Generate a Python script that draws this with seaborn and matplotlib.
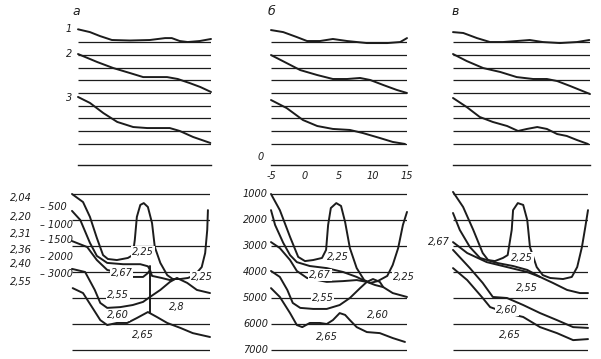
import numpy as np
import matplotlib
matplotlib.use('Agg')
import matplotlib.pyplot as plt
import seaborn as sns

sns.set_style('white')
plt.rcParams['font.family'] = ['DejaVu Sans']

# ---------- upper profiles: x in km, y in grid-line units (0 = top line) ----------
x_ticks = [-5, 0, 5, 10, 15]
grid_lines = [0, 1, 2, 3, 4, 5, 6, 7, 8]
profile_labels = ['1', '2', '3']
profile_label_y = [-1.0, 0.95, 4.4]

a_p1_x = [-5.0, -3.2, -1.7, 0.1, 2.8, 5.8, 8.1, 9.1, 10.3, 11.5, 13.3, 15.0]
a_p1_y = [-1.0, -0.78, -0.47, -0.16, -0.12, -0.16, -0.31, -0.31, -0.08, 0.0, -0.08, -0.24]
a_p2_x = [-5.0, -2.1, 0.3, 2.8, 4.8, 8.4, 10.0, 11.8, 13.4, 15.0]
a_p2_y = [0.94, 1.57, 2.04, 2.43, 2.75, 2.75, 2.9, 3.22, 3.53, 3.92]
a_p3_x = [-5.0, -3.2, -1.2, 0.9, 3.3, 5.4, 8.8, 10.3, 12.3, 14.9]
a_p3_y = [4.31, 4.78, 5.57, 6.27, 6.67, 6.75, 6.75, 6.98, 7.45, 7.92]

b_p1_x = [-5.0, -3.2, -1.2, 0.3, 2.2, 4.1, 6.2, 9.1, 12.1, 14.0, 15.0]
b_p1_y = [-0.94, -0.78, -0.39, -0.08, -0.08, -0.24, -0.08, 0.08, 0.08, 0.0, -0.31]
b_p2_x = [-5.0, -2.7, -0.7, 1.8, 4.1, 6.2, 8.1, 9.6, 11.5, 13.5, 15.0]
b_p2_y = [1.02, 1.65, 2.2, 2.59, 2.9, 2.9, 2.82, 2.98, 3.37, 3.76, 4.0]
b_p3_x = [-5.0, -2.7, -0.3, 1.8, 4.1, 6.6, 8.5, 11.0, 12.9, 14.7]
b_p3_y = [4.55, 5.18, 6.12, 6.59, 6.82, 6.9, 7.14, 7.53, 7.84, 8.0]

c_p1_x = [-5.0, -3.5, -1.5, 0.4, 2.3, 4.3, 6.2, 8.1, 10.6, 13.1, 14.9]
c_p1_y = [-0.78, -0.71, -0.31, 0.0, 0.0, -0.08, -0.16, 0.0, 0.08, 0.0, -0.16]
c_p2_x = [-5.0, -3.0, -0.6, 1.9, 4.3, 6.7, 8.7, 10.2, 12.1, 15.0]
c_p2_y = [0.94, 1.49, 2.04, 2.35, 2.75, 2.9, 2.9, 3.06, 3.45, 4.08]
c_p3_x = [-5.0, -3.0, -1.1, 0.8, 2.9, 4.5, 5.8, 7.3, 8.7, 10.2, 11.6, 13.1, 14.7]
c_p3_y = [4.39, 5.1, 5.88, 6.27, 6.59, 6.98, 6.82, 6.67, 6.82, 7.22, 7.37, 7.69, 8.0]

# ---------- lower sections: x in km, depth in m ----------
depth_levels = [1000, 2000, 3000, 4000, 5000, 6000, 7000]

a_basement_x = [-5.0, -3.4, -2.4, -1.4, -0.5, 0.2, 1.5, 3.1, 3.8, 4.1, 4.4, 4.9, 5.4, 6.0, 6.6,
                7.0, 7.8, 8.8, 9.6, 10.7, 11.8, 12.8, 13.8, 14.3, 14.6, 14.7]
a_basement_d = [1000, 1310, 1880, 2690, 3350, 3500, 3540, 3460, 3350, 2770, 1880, 1420, 1350, 1500, 2120,
                3040, 3650, 4120, 4270, 4270, 4230, 4120, 3810, 3270, 2380, 1620]
a_l500_x = [-5.0, -3.8, -2.4, -1.4, 0.1, 2.4, 4.9, 6.0, 6.3, 6.6, 8.0, 9.2, 10.3]
a_l500_d = [1650, 2000, 2880, 3380, 3650, 3700, 3700, 3780, 3920, 4150, 4230, 4310, 4250]
a_l1500_x = [-5.0, -2.8, -1.4, 0.1, 2.0, 3.8, 5.3, 6.0, 6.3]
a_l1500_d = [2810, 3040, 3540, 3920, 4040, 4190, 4190, 4040, 3920]
a_l3000_x = [-5.0, -3.1, -1.7, -0.9, 0.1, 2.0, 3.8, 5.3, 6.3, 7.8, 9.2, 10.2, 11.7, 13.1, 15.0]
a_l3000_d = [3880, 4000, 4690, 5190, 5380, 5350, 5270, 5150, 4960, 4690, 4380, 4230, 4420, 4690, 4810]
a_low_x = [-4.9, -3.4, -2.1, -0.9, 0.1, 1.5, 3.0, 4.4, 6.0, 7.3, 8.8, 10.7, 12.5, 15.0]
a_low_d = [4620, 4810, 5350, 5850, 6040, 5960, 5960, 5770, 5540, 5730, 5960, 6150, 6350, 6500]
a_fault_x = [6.3, 6.3]
a_fault_d = [3780, 5580]

b_basement_x = [-5.0, -3.7, -2.2, -1.0, 0.0, 1.2, 2.5, 3.1, 3.4, 3.8, 4.6, 5.3, 5.9, 6.6, 7.6,
                8.7, 9.6, 10.7, 12.1, 12.9, 13.7, 14.4, 15.0]
b_basement_d = [1000, 1620, 2650, 3420, 3580, 3540, 3460, 3150, 2190, 1540, 1350, 1460, 2080, 3080, 3850,
                4310, 4420, 4350, 4150, 3730, 3080, 2190, 1690]
b_l2_x = [-5.0, -4.4, -3.2, -2.2, -1.2, 0.7, 3.2, 5.6, 7.6, 9.1, 10.3, 11.5, 12.9, 15.0]
b_l2_d = [1620, 2190, 2880, 3350, 3620, 3770, 3850, 4000, 4190, 4380, 4500, 4580, 4810, 4960]
b_l3_x = [-5.0, -3.7, -2.2, -1.2, 0.3, 3.2, 5.6, 7.6, 9.1]
b_l3_d = [2850, 3080, 3540, 3960, 4230, 4380, 4350, 4310, 4380]
b_l4_x = [-5.0, -3.7, -2.6, -1.8, -0.7, 1.2, 3.2, 5.1, 6.6, 8.1, 9.1, 10.0, 11.0, 11.5]
b_l4_d = [3960, 4190, 4690, 5190, 5380, 5420, 5420, 5270, 5000, 4620, 4380, 4270, 4380, 4580]
b_l5_x = [-5.0, -3.7, -2.2, -1.2, -0.4, 0.7, 2.2, 3.2, 4.1, 5.1, 5.9, 6.6, 7.6, 9.1, 11.0, 12.9, 14.7]
b_l5_d = [4620, 4960, 5580, 6040, 6120, 5960, 5960, 6000, 5850, 5580, 5650, 5850, 6120, 6310, 6350, 6540, 6690]

c_basement_x = [-5.0, -3.5, -2.0, -0.6, 0.2, 1.2, 2.4, 3.1, 3.7, 3.9, 4.6, 5.4, 6.0, 6.4, 7.4,
                8.3, 9.4, 11.3, 12.6, 13.4, 14.1, 14.6, 15.0]
c_basement_d = [920, 1500, 2380, 3270, 3540, 3580, 3460, 3350, 2380, 1620, 1350, 1420, 2000, 3040, 3810,
                4120, 4230, 4270, 4190, 3810, 3040, 2270, 1620]
c_l2_x = [-5.0, -4.0, -2.5, -1.0, 1.5, 3.9, 6.0, 7.9, 9.8, 11.9, 13.8, 15.0]
c_l2_d = [1730, 2380, 3040, 3460, 3650, 3770, 3920, 4190, 4420, 4690, 4810, 4810]
c_l3_x = [-5.0, -2.9, 0.0, 3.0, 6.0, 7.9]
c_l3_d = [2850, 3270, 3620, 3810, 4000, 4190]
c_l4_x = [-5.0, -2.5, -0.6, 0.9, 3.0, 5.4, 7.9, 10.4, 12.8, 15.0]
c_l4_d = [3150, 3850, 4420, 4960, 5000, 5270, 5580, 5850, 6120, 6150]
c_l5_x = [-5.0, -2.9, -0.6, 0.5, 3.0, 5.4, 7.9, 10.4, 12.8, 15.0]
c_l5_d = [3850, 4310, 5000, 5350, 5580, 5730, 6120, 6350, 6620, 6580]

# density labels inside the sections: text, x (km), depth (m)
a_densities = [('2,25', 5.3, 3230), ('2,67', 2.2, 4040), ('2,55', 1.7, 4880), ('2,60', 1.7, 5650),
               ('2,8', 10.2, 5350), ('2,65', 5.3, 6420), ('2,25', 13.8, 4190)]
b_densities = [('2,25', 4.9, 3420), ('2,67', 2.2, 4120), ('2,55', 2.6, 5000), ('2,60', 10.7, 5650),
               ('2,65', 3.2, 6500), ('2,25', 14.6, 4190)]
c_densities = [('2,25', 5.2, 3460), ('2,55', 6.0, 4620), ('2,60', 3.0, 5460), ('2,65', 3.4, 6420)]

# key to the left of section a
key_densities = ['2,04', '2,20', '2,31', '2,36', '2,40', '2,55']
key_density_depths = [1150, 1880, 2540, 3150, 3690, 4380]
key_contours = ['– 500', '– 1000', '– 1500', '– 2000', '– 3000']
key_contour_depths = [1500, 2190, 2770, 3420, 4080]

INK = '#1c1c1c'
W, H = 601, 359
FONT = dict(style='italic', fontsize=7, color=INK)

fig = plt.figure(figsize=(W / 100, H / 100), dpi=100)


def add_panel(x0, x1, ytop, ybot):
    return fig.add_axes([x0 / W, 1 - ybot / H, (x1 - x0) / W, (ybot - ytop) / H])


def draw_curves(ax, curves, lw=1.4):
    for xs, ys in curves:
        sns.lineplot(x=xs, y=ys, ax=ax, color=INK, lw=lw, sort=False, estimator=None,
                     clip_on=False, solid_joinstyle='round', solid_capstyle='round')


def top_panel(x0, x1, curves, letter, letter_x):
    ax = add_panel(x0, x1, 20, 165)
    ax.set_xlim(-5, 15)
    ax.set_ylim(9.65, -1.73)
    ax.hlines(grid_lines, -5, 15, color=INK, lw=0.9)
    draw_curves(ax, curves)
    for s in ['top', 'left', 'right']:
        ax.spines[s].set_visible(False)
    ax.spines['bottom'].set_color(INK)
    ax.spines['bottom'].set_linewidth(1.0)
    ax.set_yticks([])
    ax.set_xticks(x_ticks)
    ax.tick_params(axis='x', direction='in', length=4, width=1.0, color=INK, pad=4)
    ax.set_xticklabels([])
    ax.set_xlabel('')
    ax.set_ylabel('')
    ax.text(letter_x, -2.4, letter, fontsize=9, style='italic', color=INK, ha='left', va='center')
    return ax


def bottom_panel(x0, x1, curves, labels):
    ax = add_panel(x0, x1, 185, 355)
    ax.set_xlim(-5, 15)
    ax.set_ylim(7192, 654)
    ax.hlines(depth_levels, -5, 15, color=INK, lw=0.9)
    draw_curves(ax, curves)
    for txt, x, d in labels:
        ax.text(x, d, txt, ha='center', va='center', zorder=5,
                bbox=dict(facecolor='white', edgecolor='none', pad=0.6), **FONT)
    ax.axis('off')
    return ax


ax_a = top_panel(78, 211, [(a_p1_x, a_p1_y), (a_p2_x, a_p2_y), (a_p3_x, a_p3_y)], 'а', -5.9)
for lab, y in zip(profile_labels, profile_label_y):
    ax_a.text(-6.4, y, lab, ha='center', va='center', **FONT)

ax_b = top_panel(271, 407, [(b_p1_x, b_p1_y), (b_p2_x, b_p2_y), (b_p3_x, b_p3_y)], 'б', -5.5)
ax_b.set_xticklabels([str(t) for t in x_ticks], style='italic', fontsize=7, color=INK)
ax_b.text(-6.5, 9.0, '0', ha='center', va='center', **FONT)

ax_c = top_panel(453, 590, [(c_p1_x, c_p1_y), (c_p2_x, c_p2_y), (c_p3_x, c_p3_y)], 'в', -5.2)

bx_a = bottom_panel(72, 210, [(a_basement_x, a_basement_d), (a_l500_x, a_l500_d),
                              (a_l1500_x, a_l1500_d), (a_l3000_x, a_l3000_d),
                              (a_low_x, a_low_d), (a_fault_x, a_fault_d)], a_densities)
for lab, d in zip(key_densities, key_density_depths):
    bx_a.text(-14.0, d, lab, ha='left', va='center', **FONT)
for lab, d in zip(key_contours, key_contour_depths):
    bx_a.text(-9.6, d, lab, ha='left', va='center', **FONT)

bx_b = bottom_panel(271, 407, [(b_basement_x, b_basement_d), (b_l2_x, b_l2_d), (b_l3_x, b_l3_d),
                               (b_l4_x, b_l4_d), (b_l5_x, b_l5_d)], b_densities)
for d in depth_levels:
    bx_b.text(-5.45, d, str(d), ha='right', va='center', **FONT)

bx_c = bottom_panel(453, 588, [(c_basement_x, c_basement_d), (c_l2_x, c_l2_d), (c_l3_x, c_l3_d),
                               (c_l4_x, c_l4_d), (c_l5_x, c_l5_d)], c_densities)
bx_c.text(-5.4, 2850, '2,67', ha='right', va='center', **FONT)

fig.savefig('out.png', dpi=100, facecolor='white')
